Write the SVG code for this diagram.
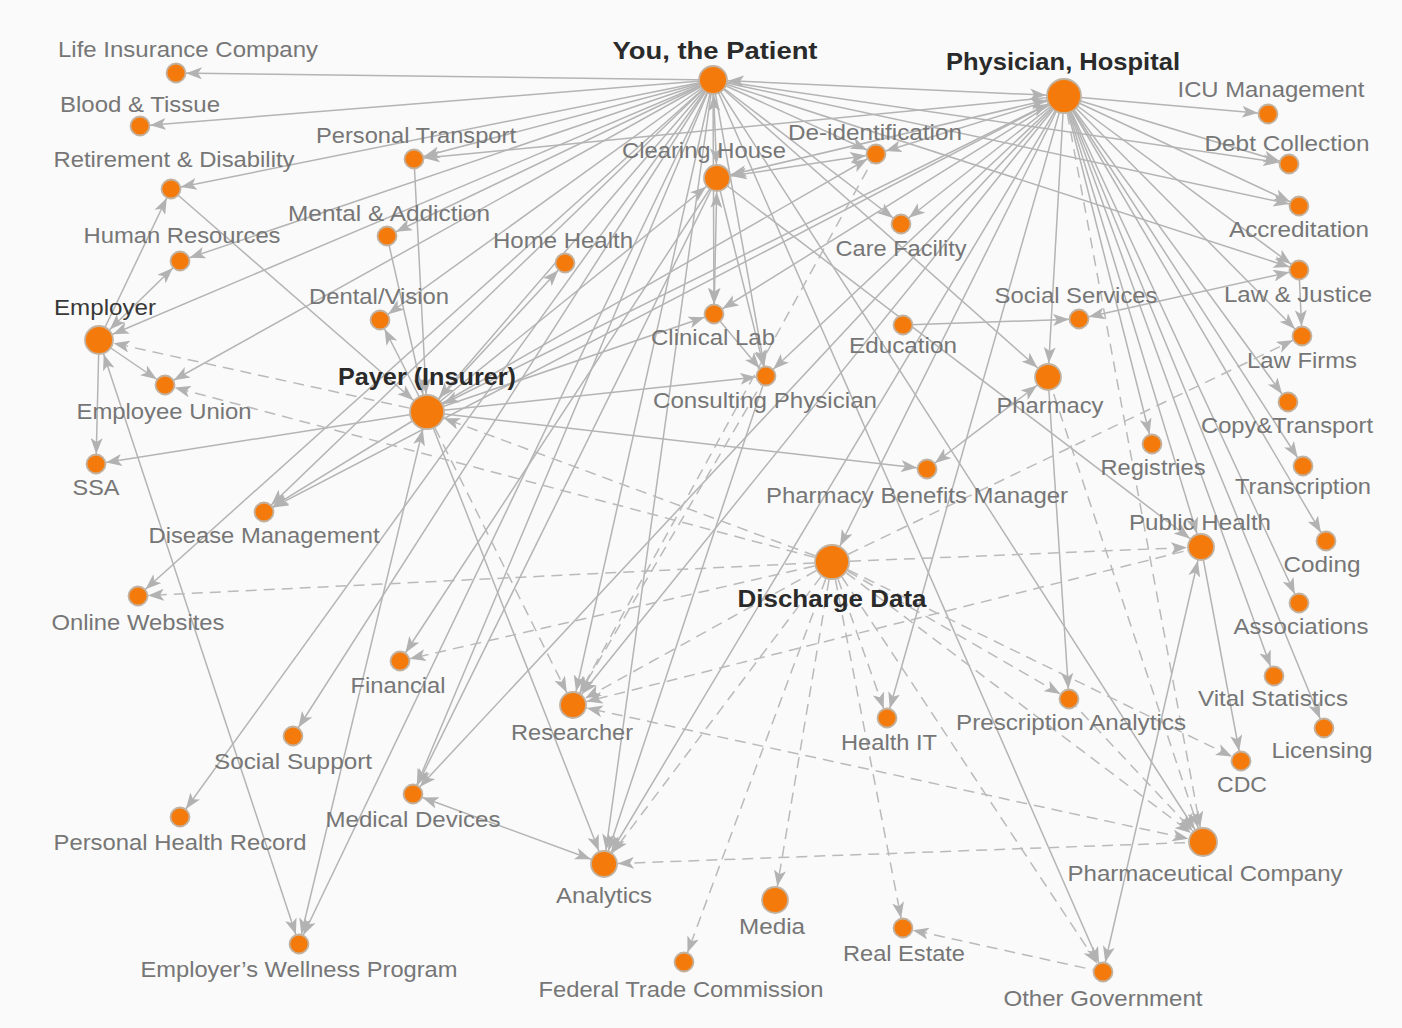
<svg xmlns="http://www.w3.org/2000/svg" width="1402" height="1028" viewBox="0 0 1402 1028">
<style>
  .bg { fill: #fafafa; }
  #connectors line { stroke: #b4b4b4; stroke-width: 1.5; fill: none; }
  #connectors line.d { stroke-dasharray: 11 7; stroke: #bababa; }
  .n circle { fill: #f47b0b; stroke: #c2b2a2; stroke-width: 1.8; }
  .n text { font-family: "Liberation Sans", Arial, Helvetica, sans-serif; font-size: 21.5px; fill: #767676; text-anchor: middle; }
  .n text.b { font-weight: bold; font-size: 24px; fill: #2a2a2a; }
  .n text.k { fill: #383838; }
  .ah { fill: #b2b2b2; }
</style>
<defs>
  <!-- arrowheads; refX pushes the tip back to the rim of the target circle -->
  <marker id="m10" markerUnits="userSpaceOnUse" markerWidth="16" markerHeight="12" refX="26" refY="6" orient="auto-start-reverse"><path class="ah" d="M0,0 L16,6 L0,12 L4,6 Z"/></marker>
  <marker id="m14" markerUnits="userSpaceOnUse" markerWidth="16" markerHeight="12" refX="30" refY="6" orient="auto-start-reverse"><path class="ah" d="M0,0 L16,6 L0,12 L4,6 Z"/></marker>
  <marker id="m15" markerUnits="userSpaceOnUse" markerWidth="16" markerHeight="12" refX="31" refY="6" orient="auto-start-reverse"><path class="ah" d="M0,0 L16,6 L0,12 L4,6 Z"/></marker>
  <marker id="m18" markerUnits="userSpaceOnUse" markerWidth="16" markerHeight="12" refX="34" refY="6" orient="auto-start-reverse"><path class="ah" d="M0,0 L16,6 L0,12 L4,6 Z"/></marker>
</defs>
<rect class="bg" x="0" y="0" width="1402" height="1028"/>

<g id="connectors">
  <!-- from You, the Patient -->
  <line x1="713" y1="80" x2="176" y2="73" marker-end="url(#m10)"/>
  <line x1="713" y1="80" x2="140" y2="126" marker-end="url(#m10)"/>
  <line x1="713" y1="80" x2="171" y2="189" marker-end="url(#m10)"/>
  <line x1="713" y1="80" x2="414" y2="159" marker-end="url(#m10)"/>
  <line x1="713" y1="80" x2="180" y2="261" marker-end="url(#m10)"/>
  <line x1="713" y1="80" x2="387" y2="236" marker-end="url(#m10)"/>
  <line x1="713" y1="80" x2="99" y2="340" marker-end="url(#m15)"/>
  <line x1="713" y1="80" x2="380" y2="320" marker-end="url(#m10)"/>
  <line x1="713" y1="80" x2="165" y2="385" marker-end="url(#m10)"/>
  <line x1="713" y1="80" x2="427" y2="412" marker-end="url(#m18)"/>
  <line x1="713" y1="80" x2="264" y2="512" marker-end="url(#m10)"/>
  <line x1="713" y1="80" x2="138" y2="596" marker-end="url(#m10)"/>
  <line x1="713" y1="80" x2="293" y2="736" marker-end="url(#m10)"/>
  <line x1="713" y1="80" x2="180" y2="817" marker-end="url(#m10)"/>
  <line x1="713" y1="80" x2="413" y2="794" marker-end="url(#m10)"/>
  <line x1="713" y1="80" x2="299" y2="944" marker-end="url(#m10)"/>
  <line x1="713" y1="80" x2="573" y2="705" marker-end="url(#m14)"/>
  <line x1="713" y1="80" x2="604" y2="864" marker-end="url(#m14)"/>
  <line x1="713" y1="80" x2="717" y2="178" marker-start="url(#m15)" marker-end="url(#m14)"/>
  <line x1="713" y1="80" x2="714" y2="314" marker-end="url(#m10)"/>
  <line x1="713" y1="80" x2="876" y2="154" marker-end="url(#m10)"/>
  <line x1="713" y1="80" x2="901" y2="224" marker-end="url(#m10)"/>
  <line x1="713" y1="80" x2="1048" y2="377" marker-end="url(#m14)"/>
  <line x1="713" y1="80" x2="1103" y2="972" marker-end="url(#m10)"/>
  <line x1="713" y1="80" x2="1064" y2="96" marker-start="url(#m15)" marker-end="url(#m18)"/>
  <line x1="713" y1="80" x2="1299" y2="206" marker-end="url(#m10)"/>
  <line x1="713" y1="80" x2="1289" y2="164" marker-end="url(#m10)"/>
  <line x1="713" y1="80" x2="1299" y2="270" marker-end="url(#m10)"/>
  <line x1="713" y1="80" x2="766" y2="376" marker-end="url(#m10)"/>
  <line x1="713" y1="80" x2="1203" y2="842" marker-end="url(#m15)"/>

  <!-- from Physician, Hospital -->
  <line x1="1064" y1="96" x2="1268" y2="114" marker-end="url(#m10)"/>
  <line x1="1064" y1="96" x2="1289" y2="164" marker-end="url(#m10)"/>
  <line x1="1064" y1="96" x2="1299" y2="206" marker-end="url(#m10)"/>
  <line x1="1064" y1="96" x2="1299" y2="270" marker-end="url(#m10)"/>
  <line x1="1064" y1="96" x2="1302" y2="336" marker-end="url(#m10)"/>
  <line x1="1064" y1="96" x2="1288" y2="402" marker-end="url(#m10)"/>
  <line x1="1064" y1="96" x2="1303" y2="466" marker-end="url(#m10)"/>
  <line x1="1064" y1="96" x2="1326" y2="541" marker-end="url(#m10)"/>
  <line x1="1064" y1="96" x2="1299" y2="603" marker-end="url(#m10)"/>
  <line x1="1064" y1="96" x2="1274" y2="676" marker-end="url(#m10)"/>
  <line x1="1064" y1="96" x2="1324" y2="728" marker-end="url(#m10)"/>
  <line x1="1064" y1="96" x2="1152" y2="444" marker-end="url(#m10)"/>
  <line x1="1064" y1="96" x2="1201" y2="547" marker-end="url(#m14)"/>
  <line x1="1064" y1="96" x2="1048" y2="377" marker-end="url(#m14)"/>
  <line class="d" x1="1064" y1="96" x2="1203" y2="842" marker-end="url(#m15)"/>
  <line x1="1064" y1="96" x2="717" y2="178" marker-start="url(#m18)" marker-end="url(#m14)"/>
  <line x1="1064" y1="96" x2="876" y2="154" marker-end="url(#m10)"/>
  <line x1="1064" y1="96" x2="901" y2="224" marker-end="url(#m10)"/>
  <line x1="1064" y1="96" x2="714" y2="314" marker-end="url(#m10)"/>
  <line x1="1064" y1="96" x2="766" y2="376" marker-end="url(#m10)"/>
  <line x1="1064" y1="96" x2="427" y2="412" marker-start="url(#m18)" marker-end="url(#m18)"/>
  <line x1="1064" y1="96" x2="832" y2="562" marker-end="url(#m18)"/>
  <line x1="1064" y1="96" x2="887" y2="718" marker-end="url(#m10)"/>
  <line x1="1064" y1="96" x2="604" y2="864" marker-end="url(#m14)"/>
  <line x1="1064" y1="96" x2="573" y2="705" marker-end="url(#m14)"/>
  <line x1="1064" y1="96" x2="413" y2="794" marker-end="url(#m10)"/>
  <line x1="1064" y1="96" x2="414" y2="159" marker-end="url(#m10)"/>
  <line x1="1064" y1="96" x2="264" y2="512" marker-end="url(#m10)"/>

  <!-- from Payer (Insurer) -->
  <line x1="427" y1="412" x2="96" y2="464" marker-end="url(#m10)"/>
  <line x1="427" y1="412" x2="264" y2="512" marker-end="url(#m10)"/>
  <line x1="427" y1="412" x2="299" y2="944" marker-start="url(#m18)" marker-end="url(#m10)"/>
  <line x1="427" y1="412" x2="604" y2="864" marker-end="url(#m14)"/>
  <line x1="427" y1="412" x2="766" y2="376" marker-end="url(#m10)"/>
  <line x1="427" y1="412" x2="927" y2="469" marker-end="url(#m10)"/>
  <line x1="427" y1="412" x2="565" y2="263" marker-end="url(#m10)"/>
  <line x1="427" y1="412" x2="714" y2="314" marker-end="url(#m10)"/>
  <line x1="427" y1="412" x2="876" y2="154" marker-end="url(#m10)"/>
  <line x1="427" y1="412" x2="380" y2="320" marker-end="url(#m10)"/>
  <line x1="427" y1="412" x2="717" y2="178" marker-end="url(#m14)"/>
  <line x1="414" y1="159" x2="427" y2="412" marker-end="url(#m18)"/>
  <line x1="387" y1="236" x2="427" y2="412" marker-end="url(#m18)"/>
  <line x1="171" y1="189" x2="427" y2="412" marker-end="url(#m18)"/>
  <line class="d" x1="427" y1="412" x2="99" y2="340" marker-end="url(#m15)"/>
  <line class="d" x1="427" y1="412" x2="573" y2="705" marker-end="url(#m14)"/>
  <line class="d" x1="832" y1="562" x2="427" y2="412" marker-end="url(#m18)"/>

  <!-- from Employer -->
  <line x1="99" y1="340" x2="96" y2="464" marker-end="url(#m10)"/>
  <line x1="99" y1="340" x2="165" y2="385" marker-end="url(#m10)"/>
  <line x1="99" y1="340" x2="180" y2="261" marker-start="url(#m15)" marker-end="url(#m10)"/>
  <line x1="99" y1="340" x2="171" y2="189" marker-end="url(#m10)"/>
  <line x1="99" y1="340" x2="299" y2="944" marker-start="url(#m15)" marker-end="url(#m10)"/>

  <!-- dashed flows out of Discharge Data -->
  <line class="d" x1="832" y1="562" x2="165" y2="385" marker-end="url(#m10)"/>
  <line class="d" x1="832" y1="562" x2="138" y2="596" marker-end="url(#m10)"/>
  <line class="d" x1="832" y1="562" x2="400" y2="661" marker-end="url(#m10)"/>
  <line class="d" x1="832" y1="562" x2="573" y2="705" marker-end="url(#m14)"/>
  <line class="d" x1="832" y1="562" x2="604" y2="864" marker-end="url(#m14)"/>
  <line class="d" x1="832" y1="562" x2="684" y2="962" marker-end="url(#m10)"/>
  <line class="d" x1="832" y1="562" x2="775" y2="900" marker-end="url(#m14)"/>
  <line class="d" x1="832" y1="562" x2="887" y2="718" marker-end="url(#m10)"/>
  <line class="d" x1="832" y1="562" x2="903" y2="928" marker-end="url(#m10)"/>
  <line class="d" x1="832" y1="562" x2="1103" y2="972" marker-end="url(#m10)"/>
  <line class="d" x1="832" y1="562" x2="1069" y2="699" marker-end="url(#m10)"/>
  <line class="d" x1="832" y1="562" x2="1241" y2="761" marker-end="url(#m10)"/>
  <line class="d" x1="832" y1="562" x2="1203" y2="842" marker-end="url(#m15)"/>
  <line class="d" x1="832" y1="562" x2="1201" y2="547" marker-end="url(#m14)"/>
  <line class="d" x1="832" y1="562" x2="1302" y2="336" marker-end="url(#m10)"/>

  <!-- other dashed flows -->
  <line class="d" x1="1201" y1="547" x2="573" y2="705" marker-end="url(#m14)"/>
  <line class="d" x1="1203" y1="842" x2="573" y2="705" marker-start="url(#m15)" marker-end="url(#m14)"/>
  <line class="d" x1="1203" y1="842" x2="604" y2="864" marker-end="url(#m14)"/>
  <line class="d" x1="1103" y1="972" x2="903" y2="928" marker-end="url(#m10)"/>
  <line class="d" x1="1048" y1="377" x2="1203" y2="842" marker-end="url(#m15)"/>
  <line class="d" x1="1069" y1="699" x2="1203" y2="842" marker-end="url(#m15)"/>
  <line class="d" x1="876" y1="154" x2="573" y2="705" marker-end="url(#m14)"/>
  <line class="d" x1="766" y1="376" x2="573" y2="705" marker-end="url(#m14)"/>

  <!-- remaining solid flows -->
  <line x1="717" y1="178" x2="876" y2="154" marker-start="url(#m14)" marker-end="url(#m10)"/>
  <line x1="717" y1="178" x2="714" y2="314" marker-start="url(#m14)" marker-end="url(#m10)"/>
  <line x1="714" y1="314" x2="766" y2="376" marker-end="url(#m10)"/>
  <line x1="717" y1="178" x2="1201" y2="547" marker-end="url(#m14)"/>
  <line x1="717" y1="178" x2="766" y2="376" marker-end="url(#m10)"/>
  <line x1="717" y1="178" x2="400" y2="661" marker-end="url(#m10)"/>
  <line x1="717" y1="178" x2="413" y2="794" marker-end="url(#m10)"/>
  <line x1="1048" y1="377" x2="927" y2="469" marker-start="url(#m14)" marker-end="url(#m10)"/>
  <line x1="1048" y1="377" x2="1069" y2="699" marker-end="url(#m10)"/>
  <line x1="1201" y1="547" x2="1103" y2="972" marker-start="url(#m14)" marker-end="url(#m10)"/>
  <line x1="1201" y1="547" x2="1241" y2="761" marker-end="url(#m10)"/>
  <line x1="903" y1="325" x2="1079" y2="319" marker-end="url(#m10)"/>
  <line x1="1079" y1="319" x2="1299" y2="270" marker-start="url(#m10)" marker-end="url(#m10)"/>
  <line x1="1299" y1="270" x2="1302" y2="336" marker-end="url(#m10)"/>
  <line x1="413" y1="794" x2="604" y2="864" marker-start="url(#m10)" marker-end="url(#m14)"/>
  <line x1="766" y1="376" x2="604" y2="864" marker-end="url(#m14)"/>
</g>

<!-- nodes: circle plus label -->
<g id="n-patient" class="n"><circle cx="713" cy="80" r="14"/><text class="b" x="715" y="59" textLength="205" lengthAdjust="spacingAndGlyphs">You, the Patient</text></g>
<g id="n-physician" class="n"><circle cx="1064" cy="96" r="17"/><text class="b" x="1063" y="70" textLength="234" lengthAdjust="spacingAndGlyphs">Physician, Hospital</text></g>
<g id="n-clearing" class="n"><circle cx="717" cy="178" r="13"/><text x="704" y="158" textLength="164" lengthAdjust="spacingAndGlyphs">Clearing House</text></g>
<g id="n-payer" class="n"><circle cx="427" cy="412" r="17"/><text class="b" x="427" y="385" textLength="178" lengthAdjust="spacingAndGlyphs">Payer (Insurer)</text></g>
<g id="n-discharge" class="n"><circle cx="832" cy="562" r="17"/><text class="b" x="832" y="607" textLength="189" lengthAdjust="spacingAndGlyphs">Discharge Data</text></g>
<g id="n-employer" class="n"><circle cx="99" cy="340" r="14"/><text class="k" x="105" y="315" textLength="102" lengthAdjust="spacingAndGlyphs">Employer</text></g>
<g id="n-pharmacy" class="n"><circle cx="1048" cy="377" r="13"/><text x="1050" y="413" textLength="107" lengthAdjust="spacingAndGlyphs">Pharmacy</text></g>
<g id="n-publichealth" class="n"><circle cx="1201" cy="547" r="13"/><text x="1200" y="530" textLength="142" lengthAdjust="spacingAndGlyphs">Public Health</text></g>
<g id="n-researcher" class="n"><circle cx="573" cy="705" r="13"/><text x="572" y="740" textLength="122" lengthAdjust="spacingAndGlyphs">Researcher</text></g>
<g id="n-analytics" class="n"><circle cx="604" cy="864" r="13"/><text x="604" y="903" textLength="96" lengthAdjust="spacingAndGlyphs">Analytics</text></g>
<g id="n-pharmaco" class="n"><circle cx="1203" cy="842" r="14"/><text x="1205" y="881" textLength="275" lengthAdjust="spacingAndGlyphs">Pharmaceutical Company</text></g>
<g id="n-media" class="n"><circle cx="775" cy="900" r="13"/><text x="772" y="934" textLength="66" lengthAdjust="spacingAndGlyphs">Media</text></g>

<g id="n-lifeins" class="n"><circle cx="176" cy="73" r="9.5"/><text x="188" y="57" textLength="260" lengthAdjust="spacingAndGlyphs">Life Insurance Company</text></g>
<g id="n-blood" class="n"><circle cx="140" cy="126" r="9.5"/><text x="140" y="112" textLength="160" lengthAdjust="spacingAndGlyphs">Blood &amp; Tissue</text></g>
<g id="n-retirement" class="n"><circle cx="171" cy="189" r="9.5"/><text x="174" y="167" textLength="241" lengthAdjust="spacingAndGlyphs">Retirement &amp; Disability</text></g>
<g id="n-hr" class="n"><circle cx="180" cy="261" r="9.5"/><text x="182" y="243" textLength="197" lengthAdjust="spacingAndGlyphs">Human Resources</text></g>
<g id="n-transport" class="n"><circle cx="414" cy="159" r="9.5"/><text x="416" y="143" textLength="200" lengthAdjust="spacingAndGlyphs">Personal Transport</text></g>
<g id="n-mental" class="n"><circle cx="387" cy="236" r="9.5"/><text x="389" y="221" textLength="202" lengthAdjust="spacingAndGlyphs">Mental &amp; Addiction</text></g>
<g id="n-dental" class="n"><circle cx="380" cy="320" r="9.5"/><text x="379" y="304" textLength="140" lengthAdjust="spacingAndGlyphs">Dental/Vision</text></g>
<g id="n-homehealth" class="n"><circle cx="565" cy="263" r="9.5"/><text x="563" y="248" textLength="140" lengthAdjust="spacingAndGlyphs">Home Health</text></g>
<g id="n-union" class="n"><circle cx="165" cy="385" r="9.5"/><text x="164" y="419" textLength="175" lengthAdjust="spacingAndGlyphs">Employee Union</text></g>
<g id="n-ssa" class="n"><circle cx="96" cy="464" r="9.5"/><text x="96" y="495" textLength="47" lengthAdjust="spacingAndGlyphs">SSA</text></g>
<g id="n-disease" class="n"><circle cx="264" cy="512" r="9.5"/><text x="264" y="543" textLength="231" lengthAdjust="spacingAndGlyphs">Disease Management</text></g>
<g id="n-online" class="n"><circle cx="138" cy="596" r="9.5"/><text x="138" y="630" textLength="173" lengthAdjust="spacingAndGlyphs">Online Websites</text></g>
<g id="n-financial" class="n"><circle cx="400" cy="661" r="9.5"/><text x="398" y="693" textLength="95" lengthAdjust="spacingAndGlyphs">Financial</text></g>
<g id="n-social" class="n"><circle cx="293" cy="736" r="9.5"/><text x="293" y="769" textLength="158" lengthAdjust="spacingAndGlyphs">Social Support</text></g>
<g id="n-phr" class="n"><circle cx="180" cy="817" r="9.5"/><text x="180" y="850" textLength="253" lengthAdjust="spacingAndGlyphs">Personal Health Record</text></g>
<g id="n-devices" class="n"><circle cx="413" cy="794" r="9.5"/><text x="413" y="827" textLength="175" lengthAdjust="spacingAndGlyphs">Medical Devices</text></g>
<g id="n-wellness" class="n"><circle cx="299" cy="944" r="9.5"/><text x="299" y="977" textLength="317" lengthAdjust="spacingAndGlyphs">Employer’s Wellness Program</text></g>
<g id="n-lab" class="n"><circle cx="714" cy="314" r="9.5"/><text x="713" y="345" textLength="124" lengthAdjust="spacingAndGlyphs">Clinical Lab</text></g>
<g id="n-consulting" class="n"><circle cx="766" cy="376" r="9.5"/><text x="765" y="408" textLength="224" lengthAdjust="spacingAndGlyphs">Consulting Physician</text></g>
<g id="n-deid" class="n"><circle cx="876" cy="154" r="9.5"/><text x="875" y="140" textLength="174" lengthAdjust="spacingAndGlyphs">De-identification</text></g>
<g id="n-care" class="n"><circle cx="901" cy="224" r="9.5"/><text x="901" y="256" textLength="131" lengthAdjust="spacingAndGlyphs">Care Facility</text></g>
<g id="n-education" class="n"><circle cx="903" cy="325" r="9.5"/><text x="903" y="353" textLength="108" lengthAdjust="spacingAndGlyphs">Education</text></g>
<g id="n-socialsvc" class="n"><circle cx="1079" cy="319" r="9.5"/><text x="1076" y="303" textLength="163" lengthAdjust="spacingAndGlyphs">Social Services</text></g>
<g id="n-pbm" class="n"><circle cx="927" cy="469" r="9.5"/><text x="917" y="503" textLength="302" lengthAdjust="spacingAndGlyphs">Pharmacy Benefits Manager</text></g>
<g id="n-icu" class="n"><circle cx="1268" cy="114" r="9.5"/><text x="1271" y="97" textLength="187" lengthAdjust="spacingAndGlyphs">ICU Management</text></g>
<g id="n-debt" class="n"><circle cx="1289" cy="164" r="9.5"/><text x="1287" y="151" textLength="165" lengthAdjust="spacingAndGlyphs">Debt Collection</text></g>
<g id="n-accred" class="n"><circle cx="1299" cy="206" r="9.5"/><text x="1299" y="237" textLength="140" lengthAdjust="spacingAndGlyphs">Accreditation</text></g>
<g id="n-law" class="n"><circle cx="1299" cy="270" r="9.5"/><text x="1298" y="302" textLength="148" lengthAdjust="spacingAndGlyphs">Law &amp; Justice</text></g>
<g id="n-lawfirms" class="n"><circle cx="1302" cy="336" r="9.5"/><text x="1302" y="368" textLength="110" lengthAdjust="spacingAndGlyphs">Law Firms</text></g>
<g id="n-copy" class="n"><circle cx="1288" cy="402" r="9.5"/><text x="1287" y="433" textLength="172" lengthAdjust="spacingAndGlyphs">Copy&amp;Transport</text></g>
<g id="n-transcr" class="n"><circle cx="1303" cy="466" r="9.5"/><text x="1303" y="494" textLength="136" lengthAdjust="spacingAndGlyphs">Transcription</text></g>
<g id="n-coding" class="n"><circle cx="1326" cy="541" r="9.5"/><text x="1322" y="572" textLength="77" lengthAdjust="spacingAndGlyphs">Coding</text></g>
<g id="n-assoc" class="n"><circle cx="1299" cy="603" r="9.5"/><text x="1301" y="634" textLength="135" lengthAdjust="spacingAndGlyphs">Associations</text></g>
<g id="n-vital" class="n"><circle cx="1274" cy="676" r="9.5"/><text x="1273" y="706" textLength="150" lengthAdjust="spacingAndGlyphs">Vital Statistics</text></g>
<g id="n-licensing" class="n"><circle cx="1324" cy="728" r="9.5"/><text x="1322" y="758" textLength="101" lengthAdjust="spacingAndGlyphs">Licensing</text></g>
<g id="n-cdc" class="n"><circle cx="1241" cy="761" r="9.5"/><text x="1242" y="792" textLength="50" lengthAdjust="spacingAndGlyphs">CDC</text></g>
<g id="n-registries" class="n"><circle cx="1152" cy="444" r="9.5"/><text x="1153" y="475" textLength="105" lengthAdjust="spacingAndGlyphs">Registries</text></g>
<g id="n-rxanalytics" class="n"><circle cx="1069" cy="699" r="9.5"/><text x="1071" y="730" textLength="230" lengthAdjust="spacingAndGlyphs">Prescription Analytics</text></g>
<g id="n-healthit" class="n"><circle cx="887" cy="718" r="9.5"/><text x="889" y="750" textLength="96" lengthAdjust="spacingAndGlyphs">Health IT</text></g>
<g id="n-realestate" class="n"><circle cx="903" cy="928" r="9.5"/><text x="904" y="961" textLength="122" lengthAdjust="spacingAndGlyphs">Real Estate</text></g>
<g id="n-ftc" class="n"><circle cx="684" cy="962" r="9.5"/><text x="681" y="997" textLength="285" lengthAdjust="spacingAndGlyphs">Federal Trade Commission</text></g>
<g id="n-othergov" class="n"><circle cx="1103" cy="972" r="9.5"/><text x="1103" y="1006" textLength="199" lengthAdjust="spacingAndGlyphs">Other Government</text></g>
</svg>
